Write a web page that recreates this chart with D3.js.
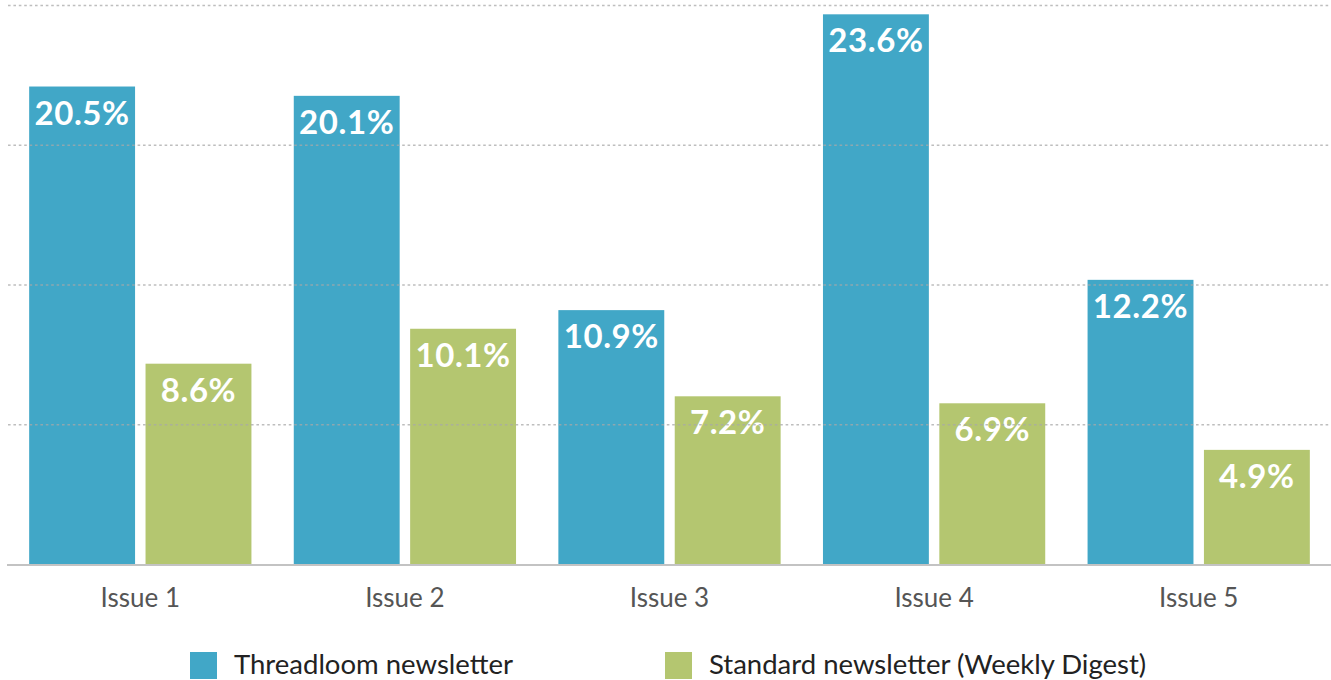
<!DOCTYPE html>
<html>
<head>
<meta charset="utf-8">
<script src="https://cdn.jsdelivr.net/npm/d3@7"></script>
<style>
  html, body { margin: 0; padding: 0; background: #fff; overflow: hidden; }
  svg { display: block; }
</style>
</head>
<body>
<svg id="chart" width="1331" height="680"></svg>
<script>
const categories = ["Issue 1", "Issue 2", "Issue 3", "Issue 4", "Issue 5"];
const seriesNames = ["Threadloom newsletter", "Standard newsletter (Weekly Digest)"];
const threadloomValues = [20.5, 20.1, 10.9, 23.6, 12.2];
const standardValues = [8.6, 10.1, 7.2, 6.9, 4.9];
const gridTicks = [6, 12, 18, 24];
const seriesColors = ["#41a7c7", "#b4c670"];

const svg = d3.select("#chart");
const W = 1331, H = 680;
const left = 8, right = 1331, y0 = 564, yTop = 5;

const x = d3.scaleBand().domain(categories).range([left, right]).paddingInner(0.16).paddingOuter(0.08);
const xs = d3.scaleBand().domain(seriesNames).range([0, x.bandwidth()]).paddingInner(0.09).paddingOuter(0);
const y = d3.scaleLinear().domain([0, 24]).range([y0, yTop]);
const color = d3.scaleOrdinal().domain(seriesNames).range(seriesColors);

const rows = categories.map((c, i) => ({
  cat: c,
  vals: [
    { s: seriesNames[0], v: threadloomValues[i] },
    { s: seriesNames[1], v: standardValues[i] }
  ]
}));

// bars
const groups = svg.append("g").selectAll("g").data(rows).join("g")
  .attr("transform", d => `translate(${x(d.cat)},0)`);
groups.selectAll("rect").data(d => d.vals).join("rect")
  .attr("x", d => xs(d.s))
  .attr("width", xs.bandwidth())
  .attr("y", d => y(d.v))
  .attr("height", d => y(0) - y(d.v))
  .attr("fill", d => color(d.s));

// gridlines (drawn over bars)
const gridAxis = d3.axisLeft(y).tickValues(gridTicks).tickSize(-(right - left)).tickFormat("");
const gg = svg.append("g").attr("transform", `translate(${left},0)`).call(gridAxis);
gg.select(".domain").remove();
gg.selectAll(".tick line")
  .attr("stroke", "#a8a8a8")
  .attr("stroke-opacity", 0.75)
  .attr("stroke-width", 1.4)
  .attr("stroke-dasharray", "2.6,2.8");

// value labels
groups.selectAll("text").data(d => d.vals).join("text")
  .attr("x", d => xs(d.s) + xs.bandwidth() / 2)
  .attr("y", d => y(d.v) + 38)
  .attr("text-anchor", "middle")
  .attr("fill", "#ffffff")
  .attr("font-family", "Lato, 'Open Sans', sans-serif")
  .attr("font-weight", 700)
  .attr("font-size", 33)
  .attr("letter-spacing", 0.6)
  .text(d => d.v.toFixed(1) + "%");

// x axis
const xAxis = d3.axisBottom(x).tickSize(0).tickPadding(0);
const xg = svg.append("g").attr("transform", `translate(0,${y0})`).call(xAxis);
xg.select(".domain").remove();
xg.selectAll(".tick text")
  .attr("dy", null)
  .attr("y", 43)
  .attr("fill", "#555555")
  .attr("font-family", "Lato, 'Open Sans', sans-serif")
  .attr("font-size", 26)
  .attr("font-weight", 400);
svg.append("line")
  .attr("x1", 7).attr("x2", W)
  .attr("y1", y0 + 1).attr("y2", y0 + 1)
  .attr("stroke", "#c3c3c3").attr("stroke-width", 2);

// legend
const legendX = [190, 665];
const lg = svg.append("g").selectAll("g").data(seriesNames).join("g")
  .attr("transform", (d, i) => `translate(${legendX[i]},652)`);
lg.append("rect").attr("width", 27).attr("height", 27).attr("fill", d => color(d));
lg.append("text")
  .attr("x", 44).attr("y", 22)
  .attr("fill", "#222222")
  .attr("font-family", "Lato, 'Open Sans', sans-serif")
  .attr("font-size", 27.5)
  .text(d => d);
</script>
</body>
</html>
